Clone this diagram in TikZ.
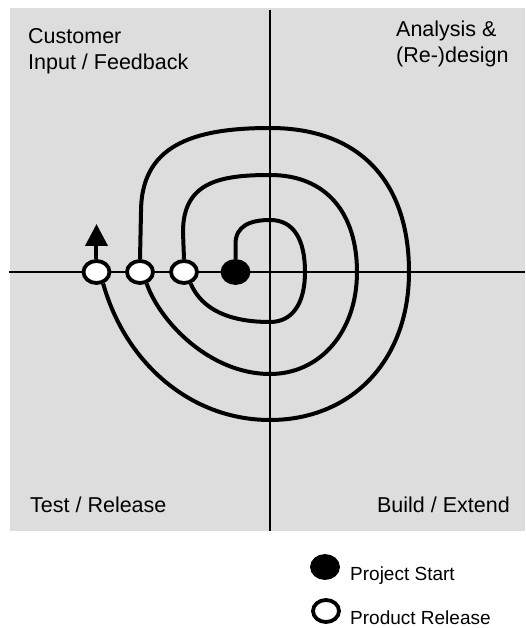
\documentclass[tikz,border=0pt]{standalone}
\usepackage{fontspec}
\setmainfont{Liberation Sans}
\usetikzlibrary{shapes.geometric,arrows.meta}
\definecolor{quadgray}{RGB}{221,221,221}
\begin{document}
\begin{tikzpicture}[x=1pt, y=1pt, >={Triangle[width=22pt,length=22pt]}]
  \tikzstyle{startdot}=[ellipse, draw, fill=black, line width=3.8pt, minimum width=26pt, minimum height=22pt, inner sep=0pt]
  \tikzstyle{releasedot}=[startdot, fill=white]
  \tikzstyle{spiralline}=[line width=4pt]
  \tikzstyle{axis}=[line width=1.5pt]
  \tikzstyle{phase}=[font=\fontsize{21.5}{26}\selectfont, inner sep=0pt, align=left]
  \tikzstyle{legendtext}=[font=\fontsize{19}{23}\selectfont, inner sep=0pt, anchor=base west]
  \useasboundingbox (-270,272) rectangle (255,-356);
  \fill[quadgray] (-260,264) rectangle (255,-259);
  \draw[axis] (-261,0) -- (255,0);
  \draw[axis] (0,262) -- (0,-259);
  \node[phase, anchor=base west] (customer) at (-242,202) {Customer\\Input / Feedback};
  \node[phase, anchor=base west] (analysis) at (126,209) {Analysis \&\\(Re-)design};
  \node[phase, anchor=base west] (test) at (-240,-240) {Test / Release};
  \node[phase, anchor=base east] (build) at (240,-240) {Build / Extend};
  \node[startdot] (project) at (-34.5,0) {};
  \node[releasedot] (rel1) at (-86,0) {};
  \node[releasedot] (rel2) at (-130,0) {};
  \node[releasedot] (rel3) at (-173.5,0) {};
  \coordinate (next) at (-173.5,48);
  \draw[spiralline] (project.north) -- (-34.5,28) .. controls (-34.5,46) and (-20,52) .. (0,52)
    .. controls (24,52) and (35,32) .. (35,0) .. controls (35,-32) and (22,-50) .. (0,-50)
    .. controls (-40,-50) and (-68,-38) .. (rel1.-60);
  \draw[spiralline] (rel1.north) -- (-87,40) .. controls (-87,90) and (-50,97) .. (0,97)
    .. controls (57,97) and (87,58) .. (87,0) .. controls (87,-60) and (50,-102) .. (0,-102)
    .. controls (-60,-102) and (-110,-50) .. (rel2.-60);
  \draw[spiralline] (rel2.north) -- (-129,60) .. controls (-129,125) and (-80,144) .. (0,144)
    .. controls (90,144) and (139,90) .. (139,0) .. controls (139,-90) and (80,-148) .. (0,-148)
    .. controls (-80,-148) and (-145,-90) .. (rel3.-60);
  \draw[spiralline, ->] (rel3.north) -- (next);
  \node[startdot] (keystart) at (55,-295) {};
  \node[legendtext] (keystarttext) at (80,-308) {Project Start};
  \node[releasedot] (keyrelease) at (56,-339) {};
  \node[legendtext] (keyreleasetext) at (80,-352) {Product Release};
\end{tikzpicture}
\end{document}
